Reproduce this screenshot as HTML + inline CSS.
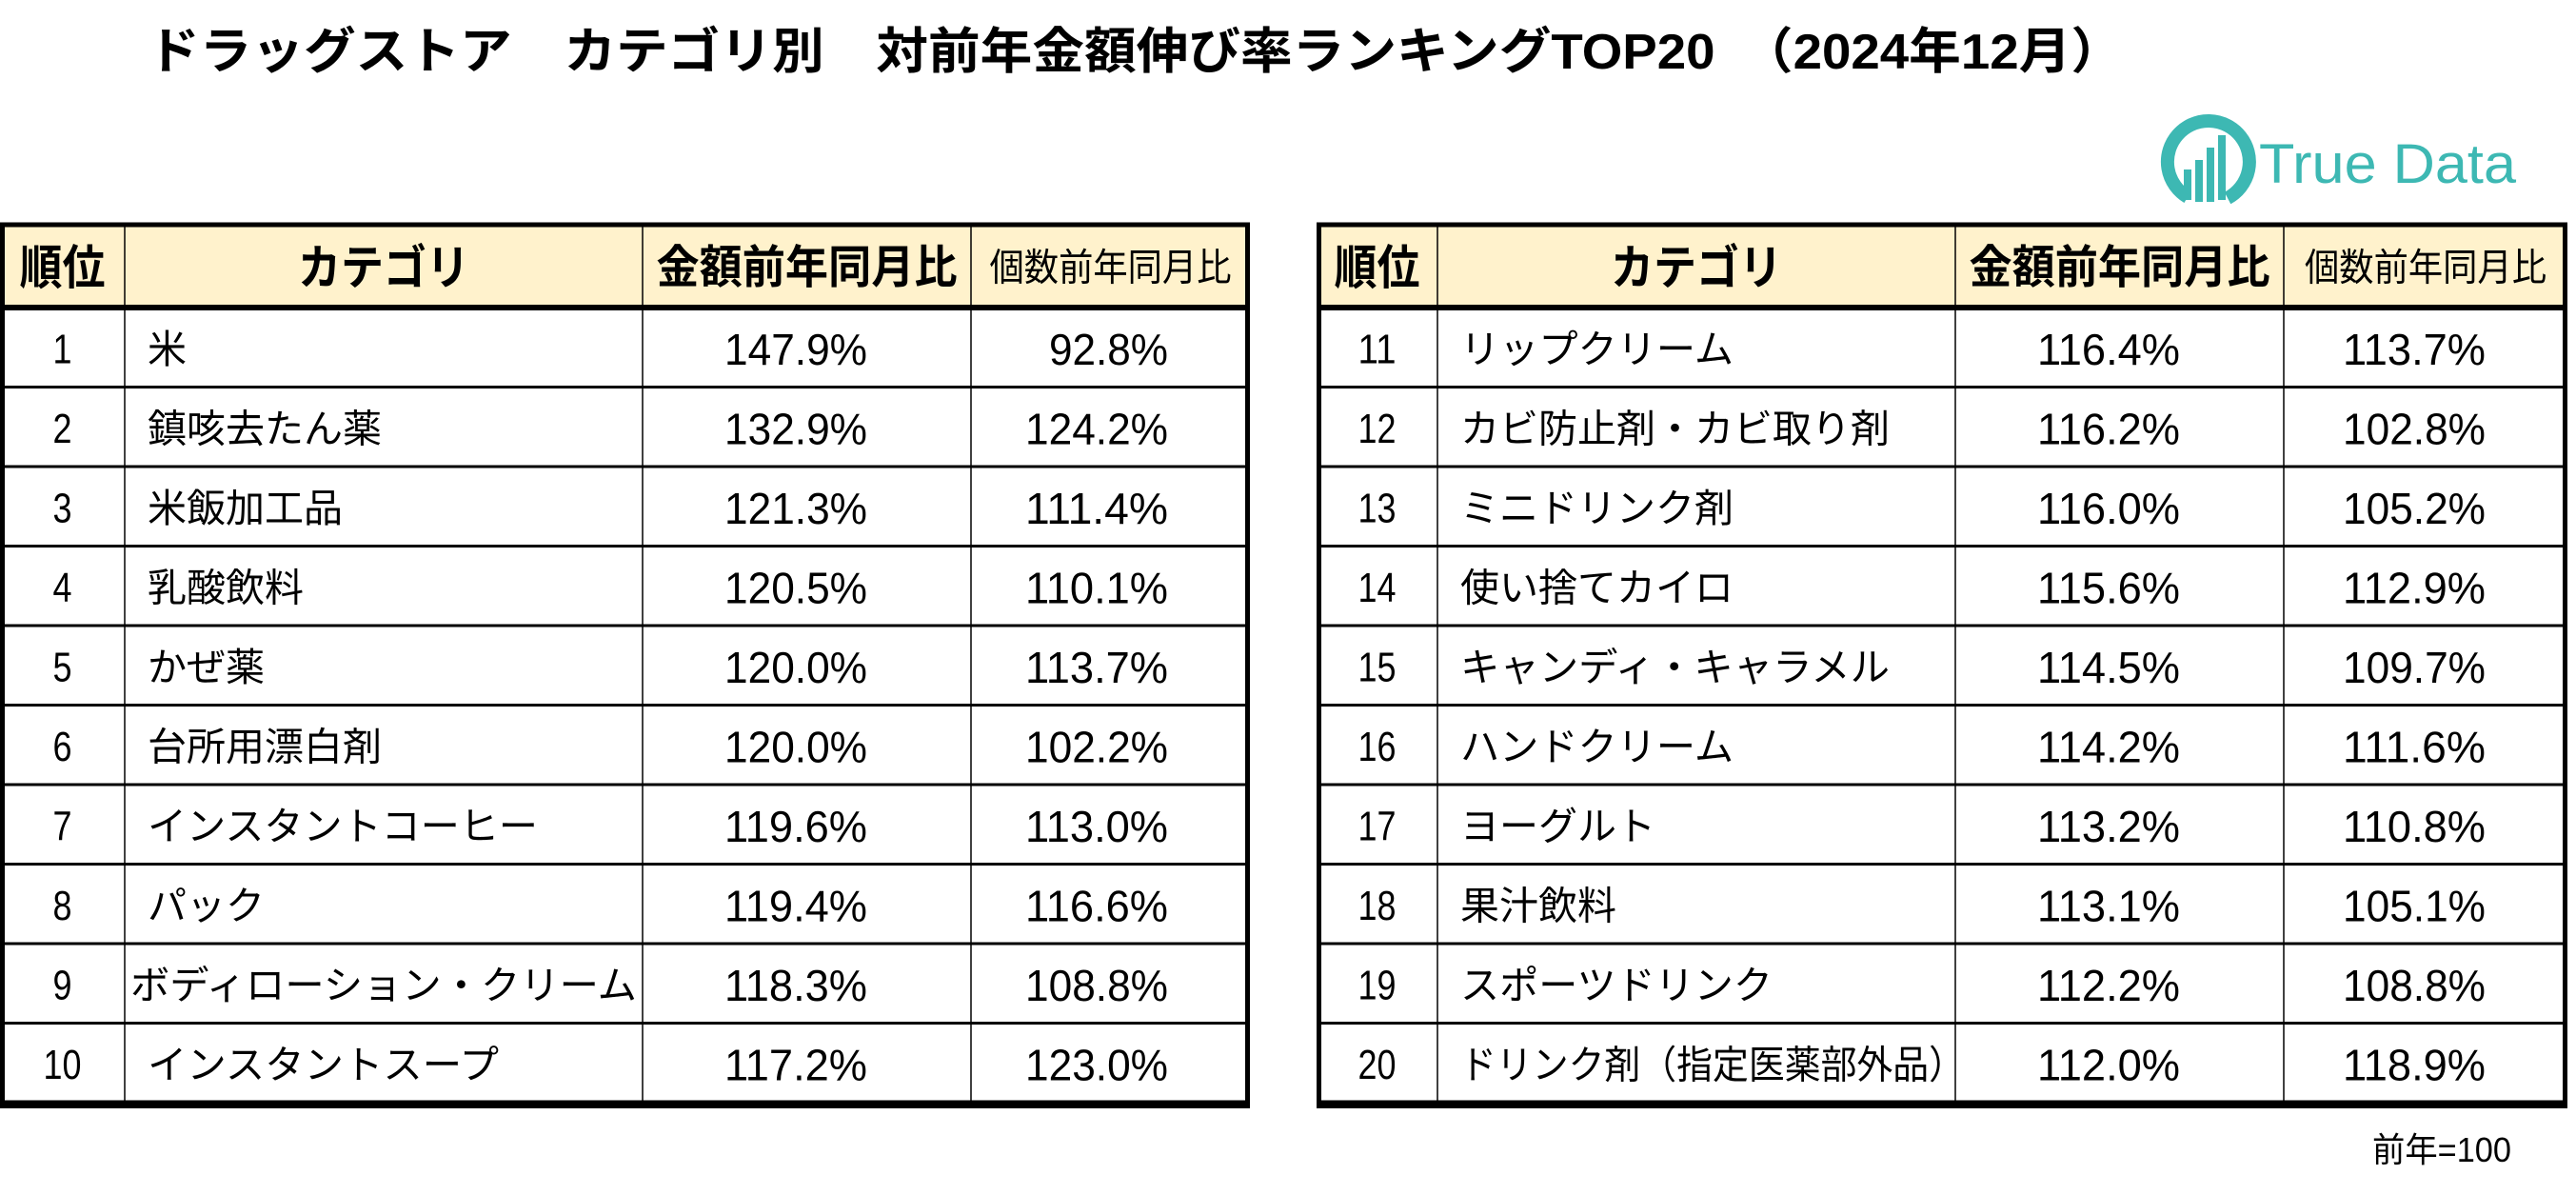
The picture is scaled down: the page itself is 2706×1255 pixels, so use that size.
<!DOCTYPE html>
<html><head><meta charset="utf-8"><style>
html,body{margin:0;padding:0;background:#fff;}
svg{display:block;}
text{font-family:"Liberation Sans","Noto Sans CJK JP",sans-serif;fill:#000;}
</style></head><body>
<svg id="chart" width="2706" height="1255" viewBox="0 0 2706 1255" xmlns="http://www.w3.org/2000/svg">
<rect width="2706" height="1255" fill="#fff"/>
<text x="155" y="72" font-size="52" font-weight="bold" textLength="2075" lengthAdjust="spacingAndGlyphs">ドラッグストア　カテゴリ別　対前年金額伸び率ランキングTOP20　（2024年12月）</text>
<g>
  <path d="M2298 207 A43 43 0 1 1 2340 208" fill="none" stroke="#3DB8B3" stroke-width="14"/>
  <path d="M2298 178 L2298 210" stroke="#3DB8B3" stroke-width="8"/>
  <path d="M2310 168 L2310 212" stroke="#3DB8B3" stroke-width="8"/>
  <path d="M2322 155 L2322 212" stroke="#3DB8B3" stroke-width="8"/>
  <path d="M2334 142 L2334 210" stroke="#3DB8B3" stroke-width="8"/>
  <text x="2373" y="192" font-size="58" style="fill:#3DB8B3" textLength="270" lengthAdjust="spacingAndGlyphs">True Data</text>
</g>
<g id="tables"></g>
<text x="2638" y="1220" font-size="36" text-anchor="end" textLength="146" lengthAdjust="spacingAndGlyphs">前年=100</text>
</svg>
<script>
const ranks = [1,2,3,4,5,6,7,8,9,10,11,12,13,14,15,16,17,18,19,20];
const categories = ["米","鎮咳去たん薬","米飯加工品","乳酸飲料","かぜ薬","台所用漂白剤","インスタントコーヒー","パック","ボディローション・クリーム","インスタントスープ","リップクリーム","カビ防止剤・カビ取り剤","ミニドリンク剤","使い捨てカイロ","キャンディ・キャラメル","ハンドクリーム","ヨーグルト","果汁飲料","スポーツドリンク","ドリンク剤（指定医薬部外品）"];
const amountYoY = [147.9,132.9,121.3,120.5,120.0,120.0,119.6,119.4,118.3,117.2,116.4,116.2,116.0,115.6,114.5,114.2,113.2,113.1,112.2,112.0];
const unitYoY = [92.8,124.2,111.4,110.1,113.7,102.2,113.0,116.6,108.8,123.0,113.7,102.8,105.2,112.9,109.7,111.6,110.8,105.1,108.8,118.9];
const headers = ["順位","カテゴリ","金額前年同月比","個数前年同月比"];

const NS="http://www.w3.org/2000/svg";
const root=document.getElementById('tables');
function mk(tag,attrs,parent){const e=document.createElementNS(NS,tag);for(const k in attrs)e.setAttribute(k,attrs[k]);(parent||root).appendChild(e);return e;}
const tableTop=236, headH=87, rowH=83.5;
const tablesCols=[[0,131,675,1020,1313],[1383,1510,2054,2399,2697]];
tablesCols.forEach((c,t)=>{
  const g=mk('g',{});
  
  
  const bottom=tableTop+headH+rowH*10;
  const hb=mk('rect',{x:c[0],y:tableTop,width:c[4]-c[0],height:headH,fill:'#FFF2CC'},g);
  
  
  const hs=[{s:50,w:'bold',tl:90},{s:50,w:'bold',tl:180},{s:48,w:'bold',tl:316},{s:40,w:'normal',tl:254}];
  headers.forEach((h,i)=>{
    const tx=mk('text',{x:(c[i]+c[i+1])/2,y:tableTop+headH/2+2,'font-size':hs[i].s,'font-weight':hs[i].w,'text-anchor':'middle','dominant-baseline':'central',textLength:hs[i].tl,lengthAdjust:'spacingAndGlyphs'},g);
    tx.textContent=h;
    
    
  });
  for(let r=0;r<10;r++){
    const idx=t*10+r;
    const cy=tableTop+headH+rowH*r+rowH/2+2;
    const row=mk('g',{},g);
    
    
    const a=mk('text',{x:(c[0]+c[1])/2,y:cy,'font-size':44,'text-anchor':'middle','dominant-baseline':'central',textLength:String(ranks[idx]).length*20,lengthAdjust:'spacingAndGlyphs'},row);
    a.textContent=ranks[idx];
    const cat=categories[idx];
    let w=cat.length*41, sx=c[1]+24;
    const avail=c[2]-sx-8;
    if(w>avail){ if(avail/w>0.92){w=avail;} else {w=Math.min(w,avail+18);} }
    if(idx===8){sx=c[1]+6;w=c[2]-c[1]-12;}
    const b=mk('text',{x:sx,y:cy,'font-size':41,'dominant-baseline':'central',textLength:w,lengthAdjust:'spacingAndGlyphs'},row);
    b.textContent=cat;
    const s1=amountYoY[idx].toFixed(1)+'%', s2=unitYoY[idx].toFixed(1)+'%';
    const d=mk('text',{x:c[3]-109,y:cy,'font-size':46,'text-anchor':'end','dominant-baseline':'central',textLength:s1.length*25,lengthAdjust:'spacingAndGlyphs'},row);
    d.textContent=s1;
    const e=mk('text',{x:c[4]-86,y:cy,'font-size':46,'text-anchor':'end','dominant-baseline':'central',textLength:s2.length*25,lengthAdjust:'spacingAndGlyphs'},row);
    e.textContent=s2;
    if(r<9) mk('line',{x1:c[0],x2:c[4],y1:tableTop+headH+rowH*(r+1),y2:tableTop+headH+rowH*(r+1),stroke:'#000','stroke-width':3},g);
  }
  for(let i=1;i<4;i++) mk('line',{x1:c[i],x2:c[i],y1:tableTop,y2:bottom,stroke:'#000','stroke-width':1.5},g);
  mk('line',{x1:c[0],x2:c[4],y1:tableTop+headH,y2:tableTop+headH,stroke:'#000','stroke-width':6},g);
  mk('rect',{x:c[0]+2.5,y:tableTop,width:c[4]-c[0]-5,height:bottom-tableTop,fill:'none',stroke:'#000','stroke-width':5},g);
  mk('line',{x1:c[0],x2:c[4],y1:bottom+2,y2:bottom+2,stroke:'#000','stroke-width':8},g);
});
</script>
</body></html>
